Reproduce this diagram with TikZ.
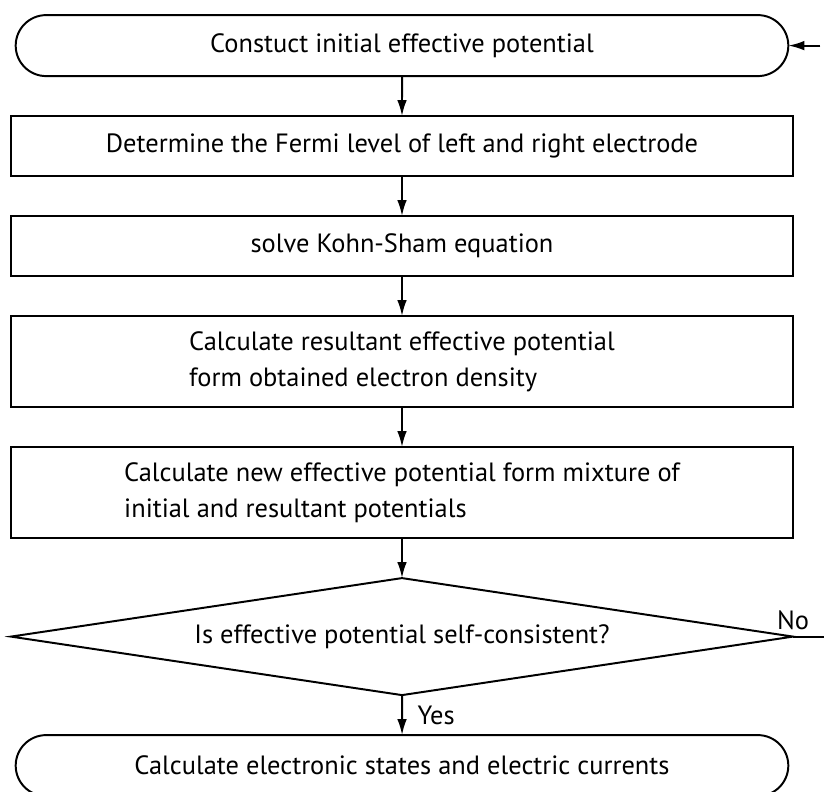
\documentclass[tikz,border=0pt]{standalone}
\usepackage{fontspec}
\setmainfont{PT Sans}
\usetikzlibrary{arrows.meta,positioning,shapes.geometric,shapes.misc}

\begin{document}
\begin{tikzpicture}[
  every node/.style={font=\fontsize{18.8}{26}\selectfont},
  box/.style={draw, line width=1.4pt, outer sep=0pt, minimum width=19.55cm, minimum height=1.5cm, align=center},
  tallbox/.style={box, minimum height=2.275cm, align=left},
  term/.style={box, rounded rectangle, minimum height=1.525cm},
  test/.style={draw, line width=1.4pt, outer sep=0pt, diamond, aspect=6.7, minimum width=19.55cm, minimum height=2.925cm, inner sep=0pt},
  flow/.style={-{Latex[length=0.4cm,width=0.24cm]}, line width=1.4pt}
]
\useasboundingbox (0,0) rectangle (20.6,-19.8);
\node[term] (start) at (10.05,-1.14) {Constuct initial effective potential};
\node[box, below=1cm of start] (fermi) {Determine the Fermi level of left and right electrode};
\node[box, below=1cm of fermi] (kohn) {solve Kohn-Sham equation};
\node[tallbox, below=1cm of kohn] (result) {Calculate resultant effective potential\\form obtained electron density};
\node[tallbox, below=1cm of result] (mix) {Calculate new effective potential form mixture of\\initial and resultant potentials};
\node[test, below=1cm of mix] (check) {Is effective potential self-consistent?};
\node[term, below=1cm of check] (stop) {Calculate electronic states and electric currents};
\coordinate[right=0.8cm of check.east] (noend);
\coordinate[right=0.8cm of start.east] (back);
\draw[flow] (start) -- (fermi);
\draw[flow] (fermi) -- (kohn);
\draw[flow] (kohn) -- (result);
\draw[flow] (result) -- (mix);
\draw[flow] (mix) -- (check);
\draw[flow] (check) -- node[right, xshift=0.25cm] (yeslab) {Yes} (stop);
\draw[line width=1.4pt] (check.east) -- (noend);
\node[above=0.05cm of check.east] (nolab) {No};
\draw[flow] (back) -- (start.east);
\end{tikzpicture}
\end{document}
